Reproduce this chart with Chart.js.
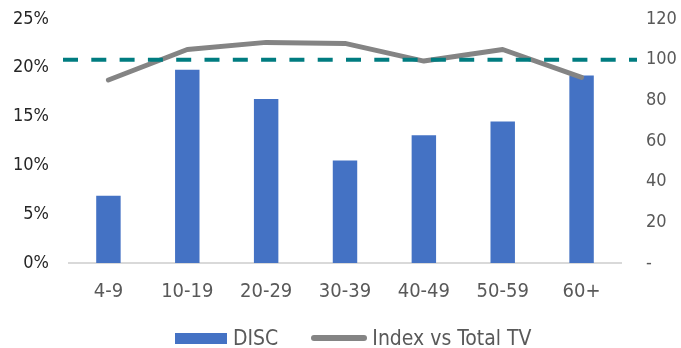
<!DOCTYPE html>
<html>
<head>
<meta charset="utf-8">
<script src="https://cdn.jsdelivr.net/npm/chart.js@4"></script>
<style>
    body { margin: 0; background: #fff; }
    #contenedor { position: relative; width: 681px; height: 348px; overflow: hidden; }
    #leyenda {
        position: absolute; left: 175px; top: 326px; height: 24px;
        display: flex; align-items: center;
        font-family: 'DejaVu Sans Condensed', 'Liberation Sans Narrow', 'DejaVu Sans', sans-serif;
        font-size: 21px; color: #595959; white-space: nowrap;
    }
    .caja { width: 52px; height: 11px; margin-right: 6px; }
    .linea { width: 56px; height: 6px; border-radius: 3px; margin-right: 5px; }
    .texto { margin-right: 33px; }
</style>
</head>
<body>
<div id="contenedor">
    <canvas id="graficoEdades" width="681" height="348"></canvas>
    <div id="leyenda"></div>
</div>
<script>
var edades = ['4-9', '10-19', '20-29', '30-39', '40-49', '50-59', '60+'];
var disc = [6.9, 19.8, 16.8, 10.5, 13.1, 14.5, 19.2];          // % por grupo de edad
var indiceTotalTV = [90, 105, 108.5, 108, 99.3, 105, 91.3];     // indice vs Total TV
var referencia = 100;

var fuente = "'DejaVu Sans Condensed', 'Liberation Sans Narrow', 'DejaVu Sans', sans-serif";

// linea discontinua en el indice 100 (eje derecho)
var lineaReferencia = {
    id: 'lineaReferencia',
    afterDatasetsDraw: function (chart) {
        var ctx = chart.ctx;
        var area = chart.chartArea;
        var y = chart.scales.y1.getPixelForValue(referencia);
        ctx.save();
        ctx.strokeStyle = '#007C80';
        ctx.lineWidth = 4;
        ctx.setLineDash([15, 13.3]);
        ctx.beginPath();
        ctx.moveTo(area.left - 6, y);
        ctx.lineTo(area.right + 16, y);
        ctx.stroke();
        ctx.restore();
    }
};

// ancho fijo de los ejes verticales, sin margen extra arriba/abajo
function anchoEje(ancho) {
    return function (s) {
        s.width = ancho;
        s.paddingTop = 0;
        s.paddingBottom = 0;
    };
}

var grafico = new Chart(document.getElementById('graficoEdades'), {
    data: {
        labels: edades,
        datasets: [{
            type: 'line',
            label: 'Index vs Total TV',
            data: indiceTotalTV,
            yAxisID: 'y1',
            borderColor: '#848484',
            backgroundColor: '#848484',
            borderWidth: 5,
            borderCapStyle: 'round',
            borderJoinStyle: 'round',
            pointRadius: 0,
            tension: 0,
            order: 0
        }, {
            type: 'bar',
            label: 'DISC',
            data: disc,
            yAxisID: 'y',
            backgroundColor: '#4472C4',
            barPercentage: 0.31,
            categoryPercentage: 1,
            order: 1
        }]
    },
    options: {
        responsive: false,
        animation: false,
        layout: { padding: { left: 0, right: 0, top: 19, bottom: 45 } },
        plugins: {
            legend: { display: false },
            tooltip: { enabled: false }
        },
        scales: {
            x: {
                grid: { display: false },
                border: { display: true, color: '#D9D9D9', width: 2 },
                ticks: { color: '#595959', font: { family: fuente, size: 20 }, padding: 9, maxRotation: 0 },
                afterFit: function (s) { s.height = 40; s.paddingLeft = 0; s.paddingRight = 0; }
            },
            y: {
                position: 'left',
                min: 0, max: 25,
                grid: { display: false },
                border: { display: false },
                ticks: {
                    stepSize: 5, padding: 12, color: '#262626',
                    font: { family: fuente, size: 18 },
                    callback: function (v) { return v + '%'; }
                },
                afterFit: anchoEje(69)
            },
            y1: {
                position: 'right',
                min: 0, max: 120,
                grid: { display: false },
                border: { display: false },
                ticks: {
                    stepSize: 20, padding: 17, color: '#595959',
                    font: { family: fuente, size: 18 },
                    callback: function (v) { return v === 0 ? '-' : v; }
                },
                afterFit: anchoEje(60)
            }
        }
    },
    plugins: [lineaReferencia]
});

// leyenda en HTML con los colores de cada serie
var leyenda = document.getElementById('leyenda');
['DISC', 'Index vs Total TV'].forEach(function (nombre, i) {
    var ds = grafico.data.datasets.find(function (d) { return d.label === nombre; });
    var marca = document.createElement('span');
    marca.className = ds.type === 'bar' ? 'caja' : 'linea';
    marca.style.background = ds.type === 'bar' ? ds.backgroundColor : ds.borderColor;
    var texto = document.createElement('span');
    texto.className = 'texto';
    texto.textContent = nombre;
    if (i === 1) texto.style.marginRight = '0';
    leyenda.appendChild(marca);
    leyenda.appendChild(texto);
});
</script>
</body>
</html>
